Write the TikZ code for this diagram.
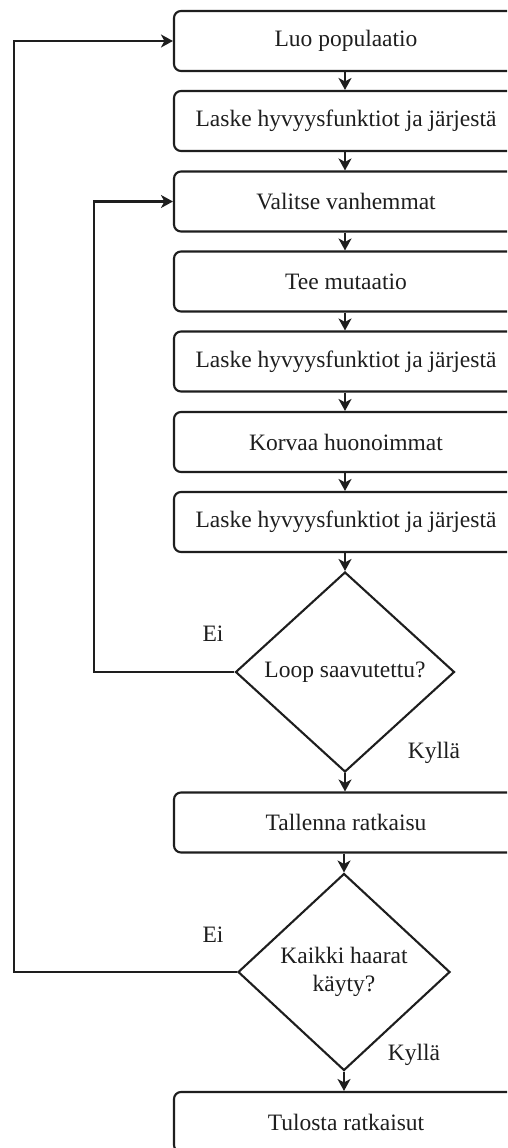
\documentclass[tikz,border=0pt]{standalone}
\usepackage{fontspec}
\setmainfont{Liberation Serif}
\usetikzlibrary{arrows.meta,shapes.geometric}
\definecolor{ink}{HTML}{1E1E1E}
\tikzset{
  stepbox/.style={draw=ink, line width=2.1pt, rounded corners=7pt, fill=white,
    minimum width=344pt, minimum height=60pt, inner sep=0pt, text=ink,
    font=\fontsize{23.5}{28}\selectfont},
  decision/.style={draw=ink, line width=2.1pt, diamond, fill=white, inner sep=0pt,
    text=ink, align=center, font=\fontsize{23.5}{28}\selectfont},
  flow/.style={draw=ink, line width=2.1pt,
    -{Stealth[length=12pt,width=13pt,inset=3.5pt]}},
  tag/.style={text=ink, font=\fontsize{23.5}{28}\selectfont, inner sep=0pt}
}
\begin{document}
\begin{tikzpicture}[x=1pt,y=-1pt]
  \useasboundingbox (0,0) rectangle (507,1148);
  \clip (0,0) rectangle (507,1148);
  \fill[white] (0,0) rectangle (507,1148);

  % process steps
  \node[stepbox] (luo)   at (346,41)    {Luo populaatio};
  \node[stepbox] (lask1) at (346,121)   {Laske hyvyysfunktiot ja järjestä};
  \node[stepbox] (val)   at (346,201.5) {Valitse vanhemmat};
  \node[stepbox] (mut)   at (346,281.5) {Tee mutaatio};
  \node[stepbox] (lask2) at (346,361.5) {Laske hyvyysfunktiot ja järjestä};
  \node[stepbox] (korv)  at (346,442)   {Korvaa huonoimmat};
  \node[stepbox] (lask3) at (346,522)   {Laske hyvyysfunktiot ja järjestä};
  \node[decision, minimum width=219pt, minimum height=200pt] (loop) at (345,672) {Loop saavutettu?};
  \node[stepbox] (tall)  at (346,822.5) {Tallenna ratkaisu};
  \node[decision, minimum width=212pt, minimum height=197pt] (kaikki) at (344,972) {Kaikki haarat\\käyty?};
  \node[stepbox] (tul)   at (346,1122)  {Tulosta ratkaisut};

  % turning points of the two loops
  \coordinate (inner) at (94,672);
  \coordinate (outer) at (14,972);

  % main flow
  \draw[flow] (luo.south -| 345,0) -- (lask1.north -| 345,0);
  \draw[flow] (lask1.south -| 345,0) -- (val.north -| 345,0);
  \draw[flow] (val.south -| 345,0) -- (mut.north -| 345,0);
  \draw[flow] (mut.south -| 345,0) -- (lask2.north -| 345,0);
  \draw[flow] (lask2.south -| 345,0) -- (korv.north -| 345,0);
  \draw[flow] (korv.south -| 345,0) -- (lask3.north -| 345,0);
  \draw[flow] (lask3.south -| 345,0) -- (loop.north);
  \draw[flow] (loop.south) -- (tall.north -| 345,0);
  \draw[flow] (tall.south -| 344,0) -- (kaikki.north);
  \draw[flow] (kaikki.south) -- (tul.north -| 344,0);

  % loops back
  \draw[flow] (loop.west) -- (inner) |- (val.west);
  \draw[flow] (kaikki.west) -- (outer) |- (luo.west);

  % branch labels
  \node[tag] (ei1)  at (213,634)  {Ei};
  \node[tag] (ky1)  at (434,753)  {Kyllä};
  \node[tag] (ei2)  at (213,935)  {Ei};
  \node[tag] (ky2)  at (414,1055) {Kyllä};
\end{tikzpicture}
\end{document}
